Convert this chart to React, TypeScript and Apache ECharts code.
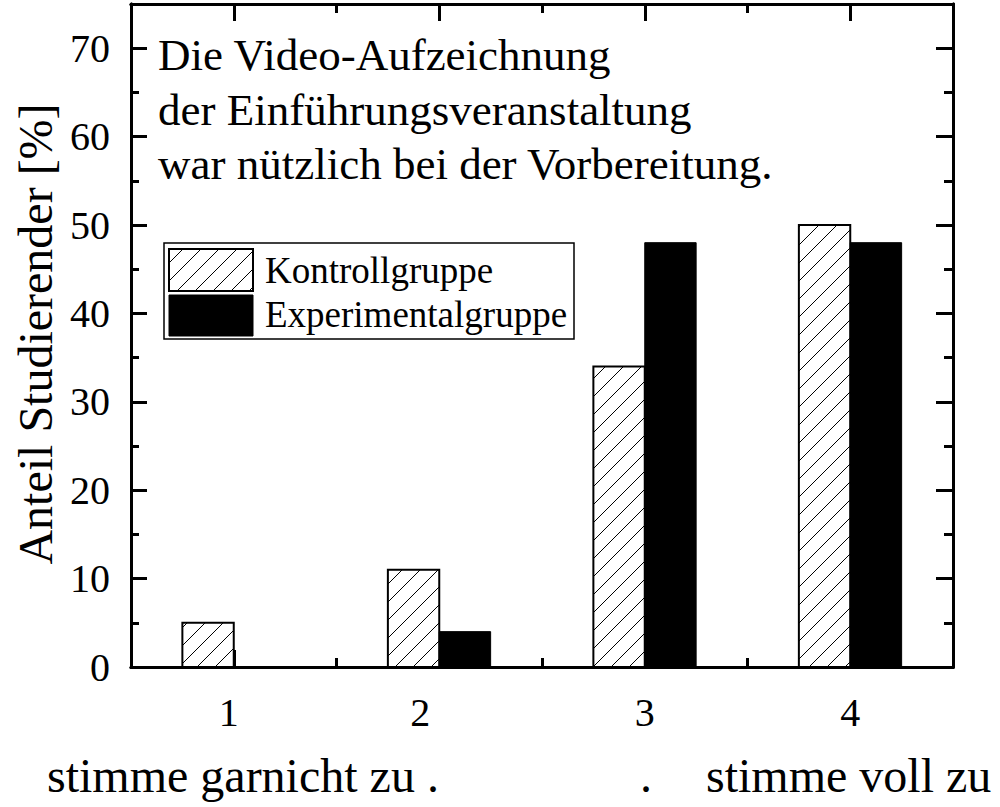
import React, { useEffect, useRef } from 'react';
import * as echarts from 'echarts';

// ---------- data ----------
const categories = [1, 2, 3, 4];
const kontrollValues = [5, 11, 34, 50];
const experimentalValues = [0, 4, 48, 48];
const yTicks = [0, 10, 20, 30, 40, 50, 60, 70];
const yMinorTicks = [5, 15, 25, 35, 45, 55, 65];
const xMinorTicks = [1.5, 2.5, 3.5];
const titleLines = [
  'Die Video-Aufzeichnung',
  'der Einführungsveranstaltung',
  'war nützlich bei der Vorbereitung.',
];
const legendNames = ['Kontrollgruppe', 'Experimentalgruppe'];
const yAxisTitle = 'Anteil Studierender [%]';
const scaleLeftText = 'stimme garnicht zu .';
const scaleMidText = '.';
const scaleRightText = 'stimme voll zu';

// ---------- style ----------
const FONT = '"Liberation Serif", "Times New Roman", serif';
const HATCH = 18;
const BAR = 0.25;

function hatchLines(x0: number, y0: number, x1: number, y1: number, lineWidth: number) {
  const out: any[] = [];
  const cStart = Math.ceil((x0 + y0) / HATCH) * HATCH;
  for (let c = cStart; c <= x1 + y1; c += HATCH) {
    const xa = Math.max(x0, c - y1);
    const xb = Math.min(x1, c - y0);
    if (xb - xa < 0.5) continue;
    out.push({
      type: 'line',
      shape: { x1: xa, y1: c - xa, x2: xb, y2: c - xb },
      style: { stroke: '#000', lineWidth },
      silent: true,
    });
  }
  return out;
}

function makeRenderItem(hatched: boolean) {
  return (params: any, api: any) => {
    const x = api.value(0);
    const v = api.value(1);
    if (!v) return { type: 'group', children: [] };
    const left = hatched ? x - BAR : x;
    const right = hatched ? x : x + BAR;
    const tl = api.coord([left, v]);
    const br = api.coord([right, 0]);
    const rx = tl[0];
    const ry = tl[1];
    const w = br[0] - tl[0];
    const h = br[1] - tl[1];
    const children: any[] = [];
    if (hatched) {
      children.push({ type: 'rect', shape: { x: rx, y: ry, width: w, height: h }, style: { fill: '#fff' } });
      children.push(...hatchLines(rx, ry, rx + w, ry + h, 1));
      children.push({
        type: 'rect',
        shape: { x: rx, y: ry, width: w, height: h },
        style: { fill: 'none', stroke: '#000', lineWidth: 2 },
      });
    } else {
      children.push({
        type: 'rect',
        shape: { x: rx, y: ry, width: w, height: h },
        style: { fill: '#000', stroke: '#000', lineWidth: 1 },
      });
    }
    return { type: 'group', children };
  };
}

const axisLineStyle = { color: '#000', width: 3 };

function xAxisDef(position: string, ticks: number[], length: number, labels: boolean) {
  return {
    type: 'value',
    position,
    min: 0.5,
    max: 4.5,
    axisLine: { show: true, onZero: false, lineStyle: axisLineStyle },
    axisTick: { show: true, inside: true, length, customValues: ticks, lineStyle: { color: '#000', width: 3 } },
    axisLabel: labels
      ? {
          show: true,
          customValues: categories,
          margin: 25,
          color: '#000',
          fontSize: 40,
          fontFamily: FONT,
          formatter: (v: number) => `{c${v}|${v}}`,
          rich: {
            c1: { fontSize: 40, fontFamily: FONT, color: '#000', padding: [0, 10, 0, 0] },
            c2: { fontSize: 40, fontFamily: FONT, color: '#000', padding: [0, 38, 0, 0] },
            c3: { fontSize: 40, fontFamily: FONT, color: '#000' },
            c4: { fontSize: 40, fontFamily: FONT, color: '#000' },
          },
        }
      : { show: false },
    splitLine: { show: false },
  };
}

function yAxisDef(position: string, ticks: number[], length: number, labels: boolean) {
  return {
    type: 'value',
    position,
    min: 0,
    max: 75,
    axisLine: { show: true, onZero: false, lineStyle: axisLineStyle },
    axisTick: { show: true, inside: true, length, customValues: ticks, lineStyle: { color: '#000', width: 3 } },
    axisLabel: labels
      ? { show: true, customValues: yTicks, margin: 21, color: '#000', fontSize: 40, fontFamily: FONT }
      : { show: false },
    splitLine: { show: false },
  };
}

function text(t: string, x: number, y: number, size: number, extra: any = {}) {
  return {
    type: 'text',
    x,
    y,
    silent: true,
    style: {
      text: t,
      fontSize: size,
      fontFamily: FONT,
      fill: '#000',
      align: 'left',
      verticalAlign: 'middle',
      ...(extra.style || {}),
    },
    ...(extra.el || {}),
  };
}

const legendSwatch1 = { x: 169, y: 249, w: 84, h: 42 };
const legendSwatch2 = { x: 169, y: 295, w: 84, h: 41 };

const option: any = {
  animation: false,
  backgroundColor: '#fff',
  grid: { left: 131, right: 47, top: 4, bottom: 140, containLabel: false },
  xAxis: [
    xAxisDef('bottom', categories, 17, true),
    xAxisDef('bottom', xMinorTicks, 9, false),
    xAxisDef('top', categories, 17, false),
    xAxisDef('top', xMinorTicks, 9, false),
  ],
  yAxis: [
    yAxisDef('left', yTicks, 16, true),
    yAxisDef('left', yMinorTicks, 8, false),
    yAxisDef('right', yTicks, 17, false),
    yAxisDef('right', yMinorTicks, 9, false),
  ],
  series: [
    {
      name: legendNames[0],
      type: 'custom',
      xAxisIndex: 0,
      yAxisIndex: 0,
      renderItem: makeRenderItem(true),
      encode: { x: 0, y: 1 },
      data: categories.map((c, i) => [c, kontrollValues[i]]),
      z: 1,
    },
    {
      name: legendNames[1],
      type: 'custom',
      xAxisIndex: 0,
      yAxisIndex: 0,
      renderItem: makeRenderItem(false),
      encode: { x: 0, y: 1 },
      data: categories.map((c, i) => [c, experimentalValues[i]]),
      z: 1,
    },
  ],
  graphic: [
    // title block
    text(titleLines[0], 158, 55, 45),
    text(titleLines[1], 158, 110, 45),
    text(titleLines[2], 158, 164, 45),
    // legend box
    {
      type: 'rect',
      silent: true,
      shape: { x: 164, y: 243, width: 410, height: 96 },
      style: { fill: '#fff', stroke: '#000', lineWidth: 1.5 },
    },
    {
      type: 'rect',
      silent: true,
      shape: { x: legendSwatch1.x, y: legendSwatch1.y, width: legendSwatch1.w, height: legendSwatch1.h },
      style: { fill: '#fff' },
    },
    ...hatchLines(
      legendSwatch1.x,
      legendSwatch1.y,
      legendSwatch1.x + legendSwatch1.w,
      legendSwatch1.y + legendSwatch1.h,
      1
    ),
    {
      type: 'rect',
      silent: true,
      shape: { x: legendSwatch1.x, y: legendSwatch1.y, width: legendSwatch1.w, height: legendSwatch1.h },
      style: { fill: 'none', stroke: '#000', lineWidth: 2 },
    },
    {
      type: 'rect',
      silent: true,
      shape: { x: legendSwatch2.x, y: legendSwatch2.y, width: legendSwatch2.w, height: legendSwatch2.h },
      style: { fill: '#000', stroke: '#000', lineWidth: 1 },
    },
    text(legendNames[0], 265, 270, 37),
    text(legendNames[1], 265, 314, 37),
    // y axis title
    text(yAxisTitle, 35, 334, 48, { style: { align: 'center' }, el: { rotation: Math.PI / 2 } }),
    // scale anchors
    text(scaleLeftText, 47, 775, 48),
    text(scaleMidText, 640, 775, 48),
    text(scaleRightText, 706, 775, 48),
  ],
};

export default function App() {
  const ref = useRef<HTMLDivElement>(null);
  useEffect(() => {
    document.body.style.margin = '0';
    const chart = echarts.init(ref.current as HTMLDivElement, null, { renderer: 'svg' });
    chart.setOption(option);
    return () => chart.dispose();
  }, []);
  return <div ref={ref} style={{ width: 1000, height: 807 }} />;
}
